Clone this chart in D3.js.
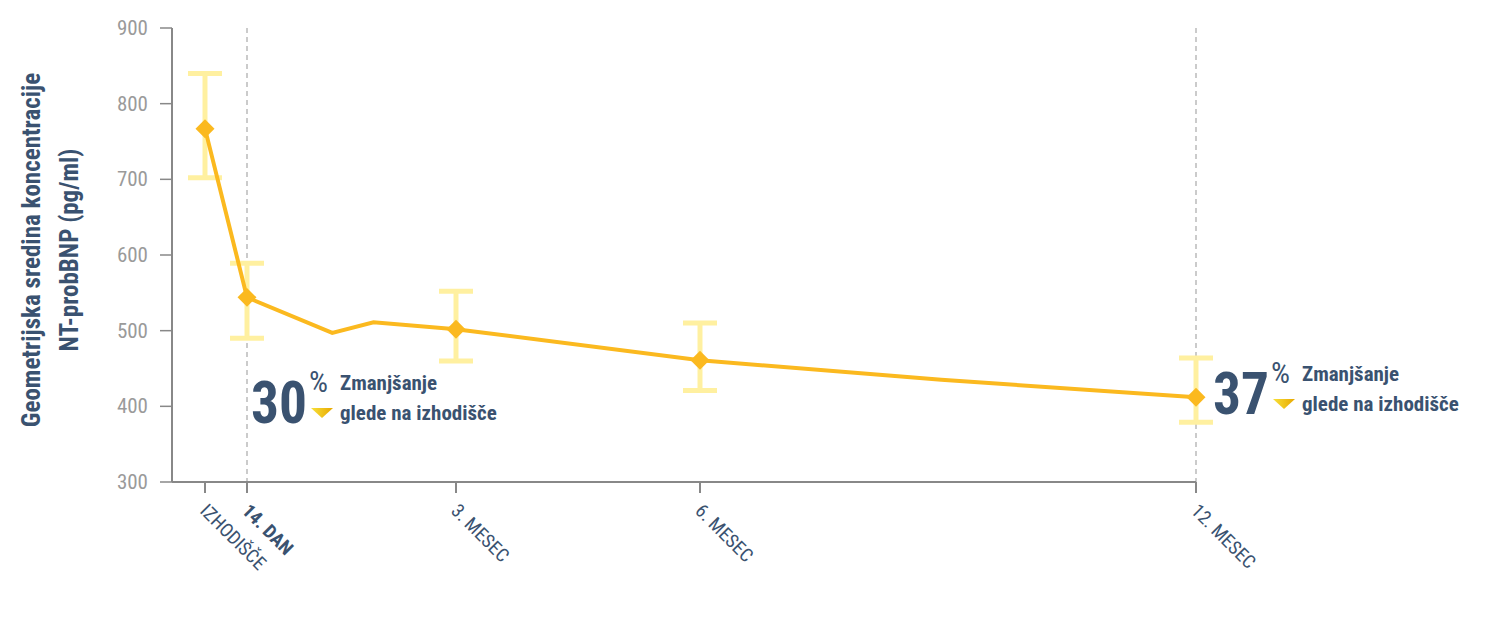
<!DOCTYPE html>
<html><head><meta charset="utf-8">
<script src="https://cdn.jsdelivr.net/npm/d3@7"></script>
<style>body{margin:0;background:#fff}svg{display:block}</style>
</head><body>
<svg id="c" width="1497" height="620"></svg>
<script>
const tickDays = [0, 14, 90, 180, 365];
const tickLabels = ["IZHODIŠČE", "14. DAN", "3. MESEC", "6. MESEC", "12. MESEC"];
const lineDays = [0, 14, 45, 60, 90, 180, 270, 365];
const lineValues = [767, 544, 497, 511, 502, 461, 435, 412];
const ciDays = [0, 14, 90, 180, 365];
const ciMid = [767, 544, 502, 461, 412];
const ciLow = [702, 490, 460, 421, 379];
const ciHigh = [840, 589, 552, 510, 464];
const yTicks = [300, 400, 500, 600, 700, 800, 900];
const notes = [{day: 14, pct: "30"}, {day: 365, pct: "37"}];

const F = "'Liberation Sans Narrow','Arial Narrow','Roboto Condensed',sans-serif";
const dark = "#3a5270", gold = "#fbb91f", pale = "#fff0a0";
const svg = d3.select("#c");
const x = d3.scaleLinear().domain([-12, 0, 14, 90, 180, 365]).range([172, 205, 247, 456, 700, 1196]);
const y = d3.scaleLinear().domain([300, 900]).range([482, 28]);

// dashed verticals
[14, 365].forEach(d => svg.append("line").attr("x1", x(d)).attr("x2", x(d)).attr("y1", y(900)).attr("y2", y(300))
  .attr("stroke", "#bbb").attr("stroke-width", 1.5).attr("stroke-dasharray", "5,4"));

// axes
svg.append("line").attr("x1", x(-12)).attr("x2", x(-12)).attr("y1", y(900)).attr("y2", y(300)).attr("stroke", "#888").attr("stroke-width", 2);
svg.append("line").attr("x1", x(-12)).attr("x2", x(365)).attr("y1", y(300)).attr("y2", y(300)).attr("stroke", "#888").attr("stroke-width", 2);
yTicks.forEach(v => {
  svg.append("line").attr("x1", x(-12) - 12).attr("x2", x(-12)).attr("y1", y(v)).attr("y2", y(v)).attr("stroke", "#888").attr("stroke-width", 1.5);
  svg.append("text").attr("x", x(-12) - 24).attr("y", y(v) + 7).attr("text-anchor", "end")
    .attr("font-family", F).attr("font-size", 21).attr("fill", "#9a9a9a").text(v);
});
tickDays.forEach((d, i) => {
  svg.append("line").attr("x1", x(d)).attr("x2", x(d)).attr("y1", y(300)).attr("y2", y(300) + 11).attr("stroke", "#888").attr("stroke-width", 2);
  svg.append("text").attr("transform", `translate(${x(d) - 6},${y(300) + 30}) rotate(45)`)
    .attr("font-family", F).attr("font-size", 19).attr("font-weight", i === 1 ? "bold" : "normal")
    .attr("fill", dark).text(tickLabels[i]);
});

// y title
const t = svg.append("text").attr("transform", `translate(0,250) rotate(-90)`).attr("text-anchor", "middle")
  .attr("font-family", F).attr("font-weight", "bold").attr("font-size", 25).attr("fill", dark);
t.append("tspan").attr("x", 0).attr("y", 40).text("Geometrijska sredina koncentracije");
t.append("tspan").attr("x", 0).attr("y", 78).text("NT-probBNP (pg/ml)");

// CI bars
ciDays.forEach((d, i) => {
  const g = svg.append("g").attr("stroke", pale).attr("stroke-width", 5);
  g.append("line").attr("x1", x(d)).attr("x2", x(d)).attr("y1", y(ciLow[i])).attr("y2", y(ciHigh[i]));
  g.append("line").attr("x1", x(d) - 17).attr("x2", x(d) + 17).attr("y1", y(ciLow[i])).attr("y2", y(ciLow[i]));
  g.append("line").attr("x1", x(d) - 17).attr("x2", x(d) + 17).attr("y1", y(ciHigh[i])).attr("y2", y(ciHigh[i]));
});

// line
svg.append("path").datum(lineDays.map((d, i) => [d, lineValues[i]]))
  .attr("d", d3.line().x(d => x(d[0])).y(d => y(d[1])))
  .attr("fill", "none").attr("stroke", gold).attr("stroke-width", 4);
ciDays.forEach((d, i) => svg.append("path").attr("d", d3.symbol(d3.symbolDiamond2, 230)())
  .attr("transform", `translate(${x(d)},${y(ciMid[i])})`).attr("fill", gold));

// gradient for triangle
const defs = svg.append("defs");
const gr = defs.append("linearGradient").attr("id", "tg").attr("x1", 0).attr("x2", 1);
gr.append("stop").attr("offset", 0).attr("stop-color", "#f7e03a");
gr.append("stop").attr("offset", 1).attr("stop-color", "#e8a800");

// annotations
notes.forEach(n => {
  const x0 = x(n.day) + (n.day === 14 ? 4 : 17), yb = n.day === 14 ? 423 : 414;
  svg.append("text").attr("x", x0).attr("y", yb).attr("font-family", F).attr("font-weight", "bold")
    .attr("font-size", 60).attr("fill", dark).attr("textLength", 56).attr("lengthAdjust", "spacingAndGlyphs").text(n.pct);
  svg.append("text").attr("x", x0 + 58).attr("y", yb - 31).attr("font-family", F)
    .attr("font-size", 30).attr("fill", dark).text("%");
  svg.append("path").attr("d", `M${x0 + 60},${yb - 15}h22l-11,10z`).attr("fill", "url(#tg)");
  const tx = svg.append("text").attr("font-family", F).attr("font-weight", "bold").attr("font-size", 21).attr("fill", dark);
  tx.append("tspan").attr("x", x0 + 89).attr("y", yb - 33).text("Zmanjšanje");
  tx.append("tspan").attr("x", x0 + 89).attr("y", yb - 3).text("glede na izhodišče");
});
</script>
</body></html>
